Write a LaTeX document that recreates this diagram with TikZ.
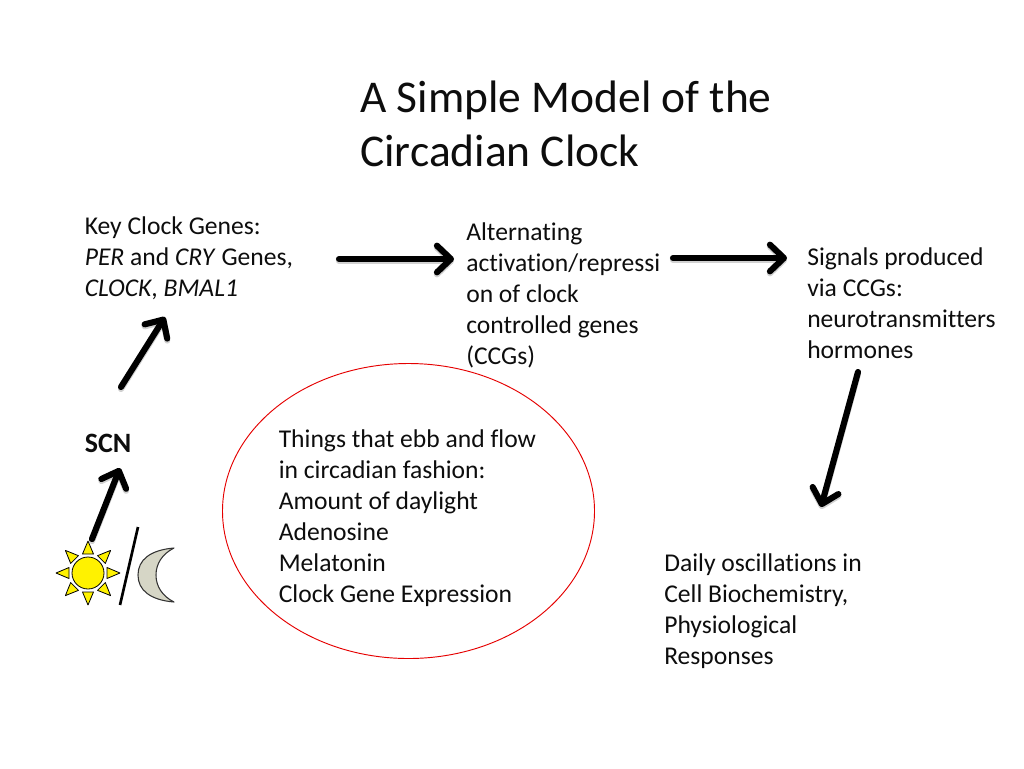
\documentclass[tikz,border=0pt]{standalone}
\usepackage{fontspec}
\setmainfont[Ligatures={NoCommon}]{Carlito}
\usetikzlibrary{arrows.meta,shapes.geometric}
\definecolor{moonfill}{RGB}{214,214,198}
\newcommand{\bodyfs}{\fontsize{19.2}{23.25}\selectfont}
\tikzset{
  x=0.75pt,y=-0.75pt,
  txt/.style={anchor=north west,inner sep=0pt,align=left,font=\bodyfs,text=black!95},
  ttl/.style={anchor=north west,inner sep=0pt,align=left,font=\fontsize{34.1}{40.5}\selectfont,text=black!95},
  bigarrow/.style={-{Straight Barb[round,length=10.5pt,width=20pt,line width=4.6pt]},line width=4.6pt,line cap=round,black},
  arrowshadow/.style={-{Straight Barb[round,length=10.5pt,width=20pt,line width=4.6pt]},line width=4.6pt,line cap=round,black,opacity=0.18},
  ray/.style={draw=black,fill=yellow,line width=0.6pt,line join=round},
}
\begin{document}
\begin{tikzpicture}
\useasboundingbox (0,0) rectangle (1024,768);
\node[ttl] (title) at (360,81) {A Simple Model of the\\Circadian Clock};
\node[txt] (genes) at (84.5,216) {Key Clock Genes:\\\textit{PER} and \textit{CRY} Genes,\\\textit{CLOCK}, \textit{BMAL1}};
\node[txt] (alt) at (466,222) {Alternating\\activation/repressi\\on of clock\\controlled genes\\(CCGs)};
\node[txt] (sig) at (807,247) {Signals produced\\via CCGs:\\neurotransmitters\\hormones};
\node[txt,font=\fontsize{21}{25}\selectfont] (scn) at (84.5,434) {\textbf{SCN}};
\node[draw=red!90!black,line width=0.7pt,ellipse,minimum width=279pt,minimum height=221.25pt,inner sep=0pt] (ell) at (408.5,511) {};
\node[txt] (ebb) at (278.5,429) {Things that ebb and flow\\in circadian fashion:\\Amount of daylight\\Adenosine\\Melatonin\\Clock Gene Expression};
\node[txt] (osc) at (664,553) {Daily oscillations in\\Cell Biochemistry,\\Physiological\\Responses};
% arrow ends
\coordinate (a1s) at (339,259); \coordinate (a1e) at (454,259);
\coordinate (a2s) at (673,258); \coordinate (a2e) at (787,258);
\coordinate (a3s) at (121,387); \coordinate (a3e) at (165,317);
\coordinate (a4s) at (858,372); \coordinate (a4e) at (821,507);
\coordinate (a5s) at (92,539); \coordinate (a5e) at (120,468);
% soft shadows
\foreach \s/\e in {a1s/a1e,a2s/a2e,a3s/a3e,a4s/a4e,a5s/a5e}
  \draw[arrowshadow,transform canvas={yshift=-1.5pt}] (\s) -- (\e);
\foreach \s/\e in {a1s/a1e,a2s/a2e,a3s/a3e,a4s/a4e,a5s/a5e}
  \draw[bigarrow] (\s) -- (\e);
% sun
\foreach \a in {0,45,...,315}{
  \begin{scope}[shift={(88,573)},rotate=\a]
    \draw[ray] (32,0) -- (19,-5.5) -- (19,5.5) -- cycle;
  \end{scope}
}
\node[circle,draw=black,fill=yellow,line width=0.6pt,minimum size=24pt,inner sep=0pt] (sun) at (88,573) {};
% slash
\draw[line width=2pt,black] (138,527) -- (120,605);
% moon
\draw[draw=black!80,fill=moonfill,line width=0.8pt,line join=round]
  (174,548) .. controls (150,550) and (138,560) .. (138,575)
  .. controls (138,590) and (150,600) .. (174,602)
  .. controls (162,596) and (156,586) .. (156,575)
  .. controls (156,564) and (162,554) .. (174,548) -- cycle;
\end{tikzpicture}
\end{document}
